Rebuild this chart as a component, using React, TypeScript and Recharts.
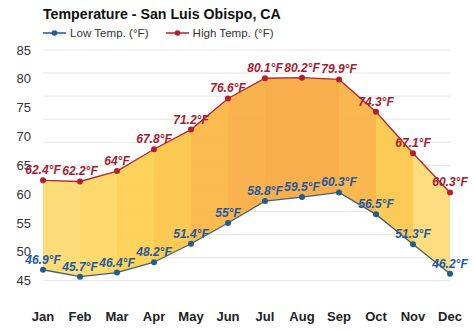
import React from "react";
import {
  ComposedChart,
  Area,
  Line,
  XAxis,
  YAxis,
  CartesianGrid,
  LabelList,
} from "recharts";

const months = ["Jan", "Feb", "Mar", "Apr", "May", "Jun", "Jul", "Aug", "Sep", "Oct", "Nov", "Dec"];
const lowTemps = [46.9, 45.7, 46.4, 48.2, 51.4, 55, 58.8, 59.5, 60.3, 56.5, 51.3, 46.2];
const highTemps = [62.4, 62.2, 64, 67.8, 71.2, 76.6, 80.1, 80.2, 79.9, 74.3, 67.1, 60.3];
const segmentColors = [
  "#FDDA72",
  "#FDD766",
  "#FDD052",
  "#FCC64A",
  "#FBB746",
  "#FAAE45",
  "#F9AA44",
  "#F9AA44",
  "#FAB346",
  "#FCC84C",
  "#FDDB78",
];
const yTicks = [45, 50, 55, 60, 65, 70, 75, 80, 85];
const gridValues = Array.from({ length: 44 }, (_, i) => 42 + i);

const data = months.map((m, i) => ({
  month: m,
  low: lowTemps[i],
  high: highTemps[i],
  range: [lowTemps[i], highTemps[i]],
}));

const font = "'Liberation Sans', Arial, sans-serif";

const LegendItem = ({ color, label }: { color: string; label: string }) => (
  <span style={{ display: "inline-flex", alignItems: "center", marginRight: 17 }}>
    <svg width={23} height={10} style={{ marginRight: 4 }}>
      <line x1={0} y1={5} x2={23} y2={5} stroke={color} strokeWidth={1.5} />
      <circle cx={11.5} cy={5} r={2.8} fill={color} />
    </svg>
    <span>{label}</span>
  </span>
);

export default function App() {
  const n = segmentColors.length;
  return (
    <div style={{ position: "absolute", left: 0, top: 0, width: 474, height: 331, background: "#fff", fontFamily: font }}>
      <div
        style={{
          position: "absolute",
          left: 43,
          top: 6,
          fontSize: 14.2,
          fontWeight: "bold",
          color: "#111",
          whiteSpace: "nowrap",
        }}
      >
        Temperature - San Luis Obispo, CA
      </div>
      <div
        style={{
          position: "absolute",
          left: 43,
          top: 26,
          fontSize: 11.6,
          color: "#333",
          whiteSpace: "nowrap",
          display: "flex",
        }}
      >
        <LegendItem color="#1f5b94" label="Low Temp. (°F)" />
        <LegendItem color="#b3202c" label="High Temp. (°F)" />
      </div>
      <ComposedChart
        width={474}
        height={331}
        data={data}
        margin={{ top: 50, right: 24, bottom: 3, left: 0 }}
      >
        <defs>
          <linearGradient id="segGrad" x1="0" y1="0" x2="1" y2="0">
            {segmentColors.flatMap((c, i) => [
              <stop key={`a${i}`} offset={i / n} stopColor={c} />,
              <stop key={`b${i}`} offset={(i + 1) / n} stopColor={c} />,
            ])}
          </linearGradient>
        </defs>
        <CartesianGrid
          horizontal
          vertical={false}
          stroke="#e6e6e6"
          horizontalValues={gridValues}
        />
        <XAxis
          dataKey="month"
          axisLine={false}
          tickLine={false}
          tickSize={0}
          tickMargin={14}
          height={30}
          interval={0}
          tick={{ fontSize: 13, fontWeight: "bold", fill: "#222", fontFamily: font }}
        />
        <YAxis
          domain={[42, 85]}
          ticks={yTicks}
          axisLine={false}
          tickLine={false}
          tickSize={0}
          tickMargin={12}
          width={43}
          tick={{ fontSize: 13, fill: "#333", fontFamily: font }}
        />
        <Area
          dataKey="range"
          stroke="none"
          fill="url(#segGrad)"
          fillOpacity={0.95}
          isAnimationActive={false}
          activeDot={false}
        />
        <Line
          dataKey="high"
          stroke="#b0282e"
          strokeWidth={1.3}
          dot={{ r: 3, fill: "#b3202c", stroke: "#b3202c", strokeWidth: 0 }}
          isAnimationActive={false}
        >
          <LabelList
            dataKey="high"
            position="top"
            offset={6}
            formatter={(v: number) => `${v}°F`}
            style={{ fontSize: 12, fontWeight: "bold", fontStyle: "italic", fill: "#a51c30", fontFamily: font }}
          />
        </Line>
        <Line
          dataKey="low"
          stroke="#3d6473"
          strokeWidth={1.3}
          dot={{ r: 3, fill: "#1f5b94", stroke: "#1f5b94", strokeWidth: 0 }}
          isAnimationActive={false}
        >
          <LabelList
            dataKey="low"
            position="top"
            offset={6}
            formatter={(v: number) => `${v}°F`}
            style={{ fontSize: 12, fontWeight: "bold", fontStyle: "italic", fill: "#1e5aa0", fontFamily: font }}
          />
        </Line>
      </ComposedChart>
    </div>
  );
}
